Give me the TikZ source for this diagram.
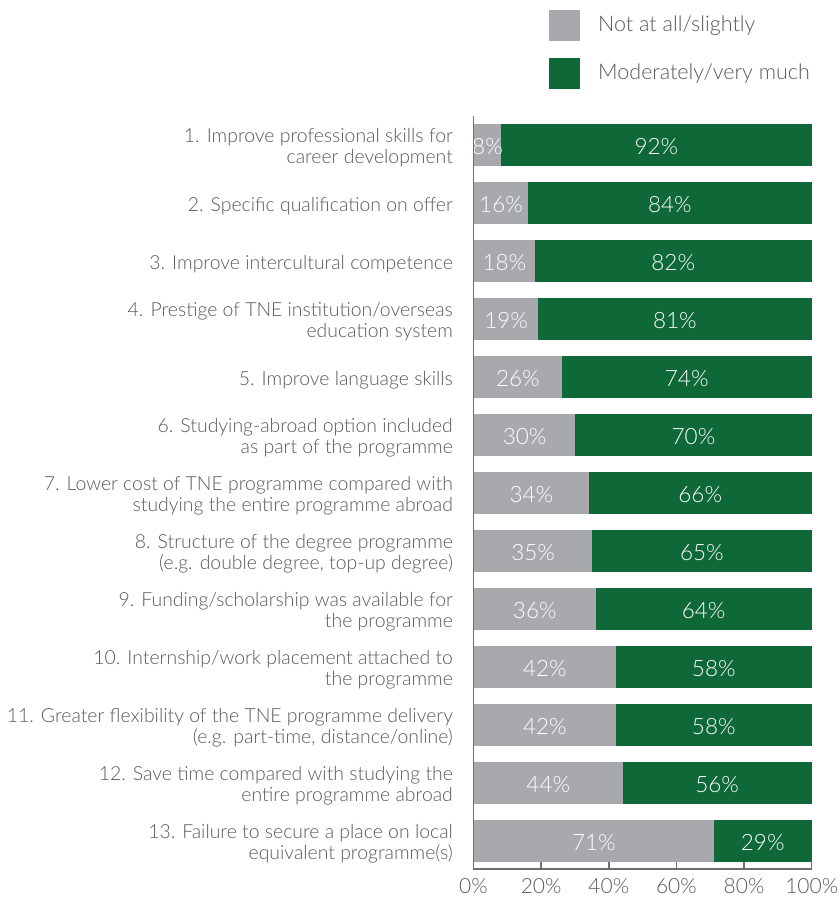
\documentclass[tikz,border=0pt]{standalone}
\usepackage{fontspec}
\setmainfont{Lato}[UprightFont={* Light}]
\definecolor{barGray}{HTML}{A7A9AC}
\definecolor{barGreen}{HTML}{0F6838}
\definecolor{txt}{HTML}{58595B}
\definecolor{axisc}{HTML}{6D6E71}
\tikzset{
  lab/.style={anchor=east, align=right, text=txt, inner sep=0pt, font=\fontsize{19.4}{21}\selectfont},
  pct/.style={text=white, inner sep=0pt, font=\fontsize{22.5}{23}\selectfont},
  legtext/.style={anchor=west, text=txt, inner sep=0pt, font=\fontsize{21.5}{24}\selectfont},
  legbox/.style={minimum width=31pt, minimum height=31pt, inner sep=0pt, anchor=north west},
  ticklab/.style={text=txt, inner sep=0pt, font=\fontsize{21}{22}\selectfont},
  axisline/.style={draw=axisc, line width=1.5pt}
}
\begin{document}
\begin{tikzpicture}[x=1pt,y=-1pt]
\useasboundingbox (0,0) rectangle (840,897);
% legend
\node[legbox, fill=barGray] (lg1) at (549,10) {};
\node[legtext] (lt1) at (598,26) {Not at all/slightly};
\node[legbox, fill=barGreen] (lg2) at (549,58) {};
\node[legtext] (lt2) at (598,74) {Moderately/very much};
% bars
\foreach \i/\g/\txtA in {
  1/8/{1. Improve professional skills for\\career development},
  2/16/{2. Specific qualification on offer},
  3/18/{3. Improve intercultural competence},
  4/19/{4. Prestige of TNE institution/overseas\\education system},
  5/26/{5. Improve language skills},
  6/30/{6. Studying-abroad option included\\as part of the programme},
  7/34/{7. Lower cost of TNE programme compared with\\studying the entire programme abroad},
  8/35/{8. Structure of the degree programme\\(e.g. double degree, top-up degree)},
  9/36/{9. Funding/scholarship was available for\\the programme},
  10/42/{10. Internship/work placement attached to\\the programme},
  11/42/{11. Greater flexibility of the TNE programme delivery\\(e.g. part-time, distance/online)},
  12/44/{12. Save time compared with studying the\\entire programme abroad},
  13/71/{13. Failure to secure a place on local\\equivalent programme(s)}}{
  \pgfmathsetmacro\yc{145+58*(\i-1)}
  \pgfmathsetmacro\xg{474+3.377*\g}
  \pgfmathtruncatemacro\gm{100-\g}
  \fill[barGray] (474,\yc-21) rectangle (\xg,\yc+21);
  \fill[barGreen] (\xg,\yc-21) rectangle (811.7,\yc+21);
  \node[pct] (pg\i) at ({(474+\xg)/2},\yc+2) {\g\%};
  \node[pct] (pm\i) at ({(\xg+811.7)/2},\yc+2) {\gm\%};
  \node[lab] (l\i) at (453,\yc+3) {\txtA};
}
% axes
\coordinate (o) at (473.5,869);
\coordinate (top) at (473.5,116);
\coordinate (xe) at (812,869);
\draw[axisline] (top) -- (o) -- (xe);
\foreach \k in {0,20,40,60,80,100}{
  \pgfmathsetmacro\xt{473.5+3.382*\k}
  \coordinate (t\k) at (\xt,869);
  \coordinate (tt\k) at (\xt,862);
  \draw[axisline] (t\k) -- (tt\k);
  \node[ticklab] (tl\k) at (\xt,886.5) {\k\%};
}
\end{tikzpicture}
\end{document}
